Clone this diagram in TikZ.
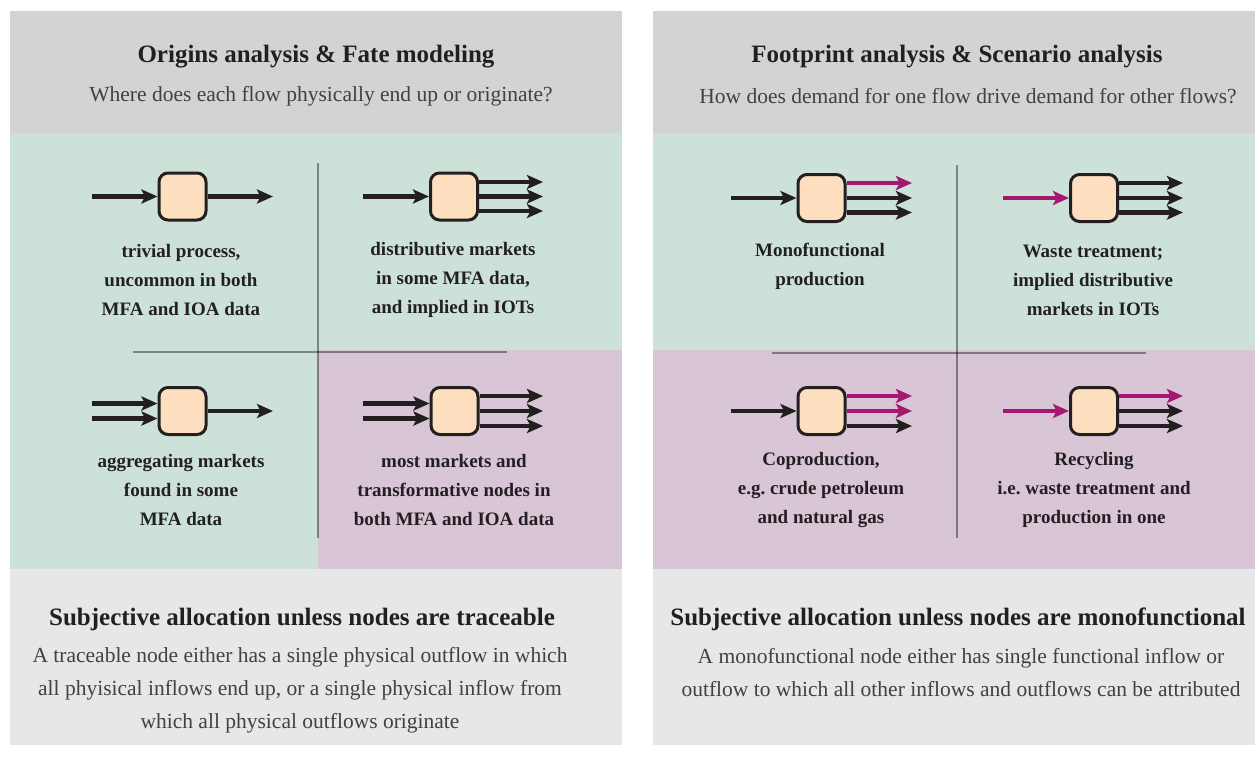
\documentclass[tikz,border=0pt]{standalone}
\usepackage{fontspec}
\setmainfont{Liberation Serif}
\usetikzlibrary{arrows.meta}

\definecolor{headgray}{RGB}{209,211,212}
\definecolor{footgray}{RGB}{230,231,232}
\definecolor{mint}{RGB}{204,226,217}
\definecolor{mauve}{RGB}{216,198,214}
\definecolor{peach}{RGB}{253,223,192}
\definecolor{ink}{RGB}{35,31,32}
\definecolor{subink}{RGB}{65,64,66}
\definecolor{plum}{RGB}{163,25,111}

\begin{document}
\begin{tikzpicture}[x=1pt,y=-1pt]

	\tikzstyle process=[draw=ink, fill=peach, line width=3pt, rounded corners=9pt, minimum size=47pt, inner sep=0pt];
	\tikzstyle flow=[color=ink, line width=4.6pt, -{Stealth[length=16pt,width=14pt,inset=3.5pt]}];
	\tikzstyle key flow=[flow, color=plum];
	\tikzstyle divider=[draw=black, opacity=.4, line width=2pt];
	\tikzstyle title=[text=ink, font=\bfseries\fontsize{25}{30}\selectfont];
	\tikzstyle question=[text=subink, font=\fontsize{21.5}{33}\selectfont, align=center];
	\tikzstyle caption=[text=ink, font=\bfseries\fontsize{19}{29}\selectfont, align=center];

	\useasboundingbox (0,0) rectangle (1255,756);

	% panels
	\fill[headgray] (10,11) rectangle (622,133);
	\fill[mint] (10,133) rectangle (622,569);
	\fill[mauve] (318,350) rectangle (622,569);
	\fill[footgray] (10,569) rectangle (622,745);

	\fill[headgray] (653,11) rectangle (1255,133);
	\fill[mint] (653,133) rectangle (1255,350);
	\fill[mauve] (653,350) rectangle (1255,569);
	\fill[footgray] (653,569) rectangle (1255,745);

	\draw[divider] (318,163) -- (318,538);
	\draw[divider] (133,352) -- (507,352);
	\draw[divider] (957,165) -- (957,538);
	\draw[divider] (772,353) -- (1146,353);

	% headers
	\node[title] (origins) at (316,57) {Origins analysis \& Fate modeling};
	\node[question] (where) at (321,96) {Where does each flow physically end up or originate?};
	\node[title] (footprint) at (957,57) {Footprint analysis \& Scenario analysis};
	\node[question] (how) at (968,96) {How does demand for one flow drive demand for other flows?};

	% origins and fate
	\node[process] (trivial) at (182.5,196.5) {};
	\coordinate (trivialin) at (92,196.5);
	\coordinate (trivialout) at (273,196.5);
	\draw[flow] (trivialin) -- (trivial);
	\draw[flow] (trivial) -- (trivialout);
	\node[caption] (trivialtext) at (181,280) {trivial process,\\uncommon in both\\MFA and IOA data};

	\node[process] (dist) at (454,196.5) {};
	\coordinate (distin) at (363,196.5);
	\coordinate (distout1) at (543,182);
	\coordinate (distout2) at (543,196.5);
	\coordinate (distout3) at (543,211);
	\draw[flow] (distin) -- (dist);
	\draw[flow] (dist.east |- distout1) -- (distout1);
	\draw[flow] (dist.east |- distout2) -- (distout2);
	\draw[flow] (dist.east |- distout3) -- (distout3);
	\node[caption] (disttext) at (453,280) {distributive markets\\in some MFA data,\\and implied in IOTs};

	\node[process] (agg) at (182.5,411) {};
	\coordinate (aggin1) at (92,403.5);
	\coordinate (aggin2) at (92,418.5);
	\coordinate (aggout) at (273,411);
	\draw[flow] (aggin1) -- (aggin1 -| agg.west);
	\draw[flow] (aggin2) -- (aggin2 -| agg.west);
	\draw[flow] (agg) -- (aggout);
	\node[caption] (aggtext) at (181,490) {aggregating markets\\found in some\\MFA data};

	\node[process] (most) at (454.5,411) {};
	\coordinate (mostin1) at (363,403.5);
	\coordinate (mostin2) at (363,418.5);
	\coordinate (mostout1) at (543,396);
	\coordinate (mostout2) at (543,411);
	\coordinate (mostout3) at (543,426);
	\draw[flow] (mostin1) -- (mostin1 -| most.west);
	\draw[flow] (mostin2) -- (mostin2 -| most.west);
	\draw[flow] (most.east |- mostout1) -- (mostout1);
	\draw[flow] (most.east |- mostout2) -- (mostout2);
	\draw[flow] (most.east |- mostout3) -- (mostout3);
	\node[caption] (mosttext) at (454,490) {most markets and\\transformative nodes in\\both MFA and IOA data};

	% footprint and scenario
	\node[process] (mono) at (821.5,198) {};
	\coordinate (monoin) at (731,198);
	\coordinate (monoout1) at (912,183);
	\coordinate (monoout2) at (912,198);
	\coordinate (monoout3) at (912,212.5);
	\draw[flow] (monoin) -- (mono);
	\draw[key flow] (mono.east |- monoout1) -- (monoout1);
	\draw[flow] (mono.east |- monoout2) -- (monoout2);
	\draw[flow] (mono.east |- monoout3) -- (monoout3);
	\node[caption] (monotext) at (820,266) {Monofunctional\\production};

	\node[process] (waste) at (1094,198) {};
	\coordinate (wastein) at (1003,198);
	\coordinate (wasteout1) at (1183,183);
	\coordinate (wasteout2) at (1183,198);
	\coordinate (wasteout3) at (1183,212.5);
	\draw[key flow] (wastein) -- (waste);
	\draw[flow] (waste.east |- wasteout1) -- (wasteout1);
	\draw[flow] (waste.east |- wasteout2) -- (wasteout2);
	\draw[flow] (waste.east |- wasteout3) -- (wasteout3);
	\node[caption] (wastetext) at (1093,280) {Waste treatment;\\implied distributive\\markets in IOTs};

	\node[process] (copro) at (821.5,411) {};
	\coordinate (coproin) at (731,411);
	\coordinate (coproout1) at (912,396);
	\coordinate (coproout2) at (912,411);
	\coordinate (coproout3) at (912,426);
	\draw[flow] (coproin) -- (copro);
	\draw[key flow] (copro.east |- coproout1) -- (coproout1);
	\draw[key flow] (copro.east |- coproout2) -- (coproout2);
	\draw[flow] (copro.east |- coproout3) -- (coproout3);
	\node[caption] (coprotext) at (821,490) {Coproduction,\\e.g.\ crude petroleum\\and natural gas};

	\node[process] (recycle) at (1094,411) {};
	\coordinate (recyclein) at (1003,411);
	\coordinate (recycleout1) at (1183,396);
	\coordinate (recycleout2) at (1183,411);
	\coordinate (recycleout3) at (1183,426);
	\draw[key flow] (recyclein) -- (recycle);
	\draw[key flow] (recycle.east |- recycleout1) -- (recycleout1);
	\draw[flow] (recycle.east |- recycleout2) -- (recycleout2);
	\draw[flow] (recycle.east |- recycleout3) -- (recycleout3);
	\node[caption] (recycletext) at (1094,490) {Recycling\\i.e.\ waste treatment and\\production in one};

	% footers
	\node[title] (traceable) at (302,619) {Subjective allocation unless nodes are traceable};
	\node[question] (traceabletext) at (300,690) {A traceable node either has a single physical outflow in which\\all phyisical inflows end up, or a single physical inflow from\\which all physical outflows originate};
	\node[title] (monofunctional) at (958,619) {Subjective allocation unless nodes are monofunctional};
	\node[question] (monofunctionaltext) at (961,673) {A monofunctional node either has single functional inflow or\\outflow to which all other inflows and outflows can be attributed};

\end{tikzpicture}
\end{document}
